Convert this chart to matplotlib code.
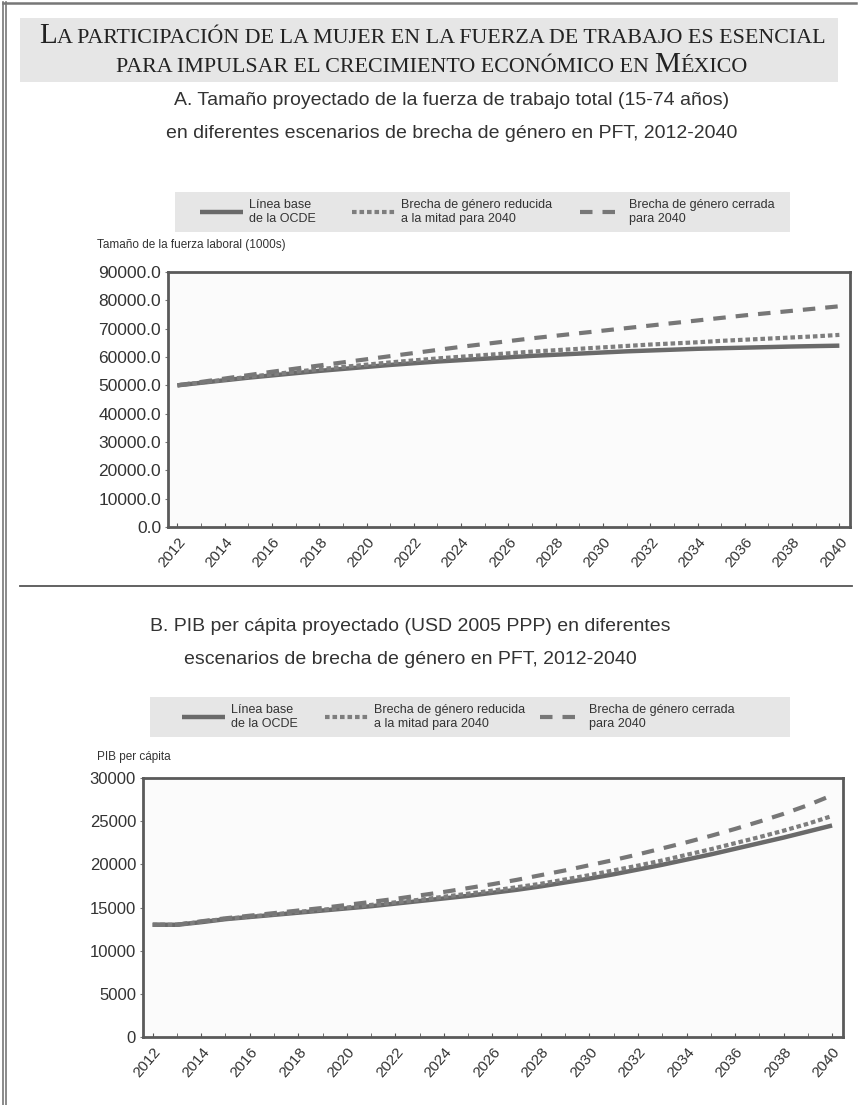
import numpy as np
import matplotlib
matplotlib.use("Agg")
from matplotlib import pyplot as plt
from matplotlib.patches import Rectangle
from matplotlib.lines import Line2D

# Datos
years = np.arange(2012, 2041)

# A. fuerza de trabajo (miles)
fuerza_base = [50000, 50900, 51800, 52700, 53500, 54300, 55100, 55800, 56500, 57200,
               57800, 58400, 58900, 59400, 59900, 60400, 60800, 61200, 61600, 62000,
               62300, 62600, 62900, 63100, 63300, 63500, 63700, 63850, 64000]
fuerza_mitad = [50000, 51000, 52000, 53000, 53900, 54800, 55700, 56500, 57300, 58100,
                58800, 59500, 60100, 60700, 61300, 61900, 62400, 62900, 63400, 63900,
                64400, 64800, 65200, 65700, 66100, 66500, 66900, 67300, 67800]
fuerza_cerrada = [50000, 51200, 52400, 53600, 54800, 55900, 57000, 58100, 59200, 60300,
                  61400, 62500, 63600, 64600, 65600, 66600, 67500, 68400, 69300, 70200,
                  71100, 72000, 72900, 73800, 74700, 75500, 76300, 77100, 77900]

# B. PIB per capita
pib_base = [13000, 13000, 13300, 13650, 13900, 14150, 14400, 14650, 14900, 15150,
            15450, 15750, 16050, 16350, 16700, 17050, 17450, 17900, 18350, 18850,
            19400, 19950, 20550, 21150, 21800, 22450, 23100, 23800, 24500]
pib_mitad = [13000, 13000, 13350, 13700, 13950, 14200, 14500, 14750, 15000, 15300,
             15600, 15900, 16250, 16600, 16950, 17350, 17750, 18250, 18750, 19300,
             19850, 20450, 21100, 21750, 22450, 23150, 23900, 24700, 25600]
pib_cerrada = [13000, 13000, 13400, 13750, 14050, 14350, 14650, 14950, 15300, 15650,
               16000, 16400, 16800, 17250, 17700, 18200, 18750, 19300, 19900, 20500,
               21150, 21850, 22550, 23300, 24100, 24950, 25850, 26850, 28000]

etiquetas = ["Línea base\nde la OCDE",
             "Brecha de género reducida\na la mitad para 2040",
             "Brecha de género cerrada\npara 2040"]

W, H = 861, 1105
sans = ["Liberation Sans Narrow", "Liberation Sans", "DejaVu Sans"]
serif = ["Liberation Serif", "DejaVu Serif"]

fig = plt.figure(figsize=(W / 100, H / 100), dpi=100)


def fx(px):
    return px / W


def fy(py):
    return 1 - py / H


# marco de la pagina
for x in (3, 6):
    fig.add_artist(Line2D([fx(x), fx(x)], [0, fy(2)], color="#777777", lw=1.2))
fig.add_artist(Line2D([fx(3), fx(856)], [fy(3), fy(3)], color="#777777", lw=1.8))
fig.add_artist(Line2D([fx(20), fx(852)], [fy(586), fy(586)], color="#555555", lw=1.3))

# encabezado gris en versalitas
fig.add_artist(Rectangle((fx(20), fy(82)), fx(818), 64 / H, transform=fig.transFigure,
                         facecolor="#e6e6e6", edgecolor="none"))

renderer = fig.canvas.get_renderer()


def versalitas(partes, y, cx):
    objs = []
    for txt, size in partes:
        t = fig.text(0, fy(y), txt, fontsize=size, family=serif, color="#222222",
                     va="baseline", ha="left")
        objs.append(t)
    anchos = [t.get_window_extent(renderer).width for t in objs]
    x = cx - sum(anchos) / 2
    for t, w in zip(objs, anchos):
        t.set_x(fx(x))
        x += w


versalitas([("L", 21), ("A PARTICIPACIÓN DE LA MUJER EN LA FUERZA DE TRABAJO ES ESENCIAL", 15.8)],
           43, 432)
versalitas([("PARA IMPULSAR EL CRECIMIENTO ECONÓMICO EN ", 15.8), ("M", 21), ("ÉXICO", 15.8)],
           72, 432)

estilos = [dict(color="#6a6a6a", lw=3.2, solid_capstyle="butt"),
           dict(color="#7e7e7e", lw=3.0, dashes=(1.1, 0.7)),
           dict(color="#777777", lw=3.0, dashes=(3.0, 2.4))]


def panel(rect, titulo, cx_titulo, ty, caja_leg, pos_leg, ylabel, ylab_y, series, ylim,
          yticks, fmt, ysize):
    fig.text(fx(cx_titulo), fy(ty), titulo, ha="center", va="center", fontsize=14,
             family=sans, color="#333333", linespacing=2.2)
    fig.text(fx(97), fy(ylab_y), ylabel, ha="left", va="center", fontsize=8.5,
             family=sans, color="#333333")

    ax = fig.add_axes(rect)
    for vals, st in zip(series, estilos):
        ax.plot(years, vals, **st)
    ax.set_xlim(2011.6, 2040.45)
    ax.set_ylim(*ylim)
    ax.set_yticks(yticks)
    ax.set_yticklabels([fmt % v for v in yticks])
    ax.set_xticks(np.arange(2012, 2041, 2))
    ax.set_xticks(years, minor=True)
    ax.set_xticklabels([str(v) for v in range(2012, 2041, 2)], rotation=50, ha="right",
                       rotation_mode="anchor")
    ax.tick_params(axis="x", which="both", direction="in", length=3, color="#555555",
                   pad=6, labelsize=11)
    ax.tick_params(axis="y", length=2, color="#777777", labelsize=ysize, pad=3)
    for lab in ax.get_xticklabels() + ax.get_yticklabels():
        lab.set_family(sans)
        lab.set_color("#333333")
    for s in ax.spines.values():
        s.set_color("#5a5a5a")
        s.set_linewidth(2.0)
    ax.set_facecolor("#fbfbfb")

    # leyenda en franja gris, una entrada por columna
    x0, y0, x1, y1 = caja_leg
    fig.add_artist(Rectangle((fx(x0), fy(y1)), fx(x1 - x0), (y1 - y0) / H,
                             transform=fig.transFigure, facecolor="#e6e6e6",
                             edgecolor="none"))
    for lab, st, px in zip(etiquetas, estilos, pos_leg):
        h = Line2D([], [], **st)
        fig.legend([h], [lab], loc="center left", frameon=False, borderpad=0,
                   borderaxespad=0, bbox_to_anchor=(fx(px), fy((y0 + y1) / 2)),
                   prop={"family": sans, "size": 9}, handlelength=3.4,
                   handletextpad=0.5, labelcolor="#333333")
    return ax


panel([fx(168), fy(527), fx(850 - 168), (527 - 272) / H],
      "A. Tamaño proyectado de la fuerza de trabajo total (15-74 años)\n"
      "en diferentes escenarios de brecha de género en PFT, 2012-2040",
      452, 117, (175, 192, 790, 232), (200, 352, 580),
      "Tamaño de la fuerza laboral (1000s)", 245,
      (fuerza_base, fuerza_mitad, fuerza_cerrada), (0, 90000),
      np.arange(0, 90001, 10000), "%.1f", 12.5)

panel([fx(143), fy(1037), fx(843 - 143), (1037 - 778) / H],
      "B. PIB per cápita proyectado (USD 2005 PPP) en diferentes\n"
      "escenarios de brecha de género en PFT, 2012-2040",
      410, 643, (150, 697, 790, 737), (182, 325, 540),
      "PIB per cápita", 757,
      (pib_base, pib_mitad, pib_cerrada), (0, 30000),
      np.arange(0, 30001, 5000), "%d", 12)

fig.savefig("out.png", dpi=100)
